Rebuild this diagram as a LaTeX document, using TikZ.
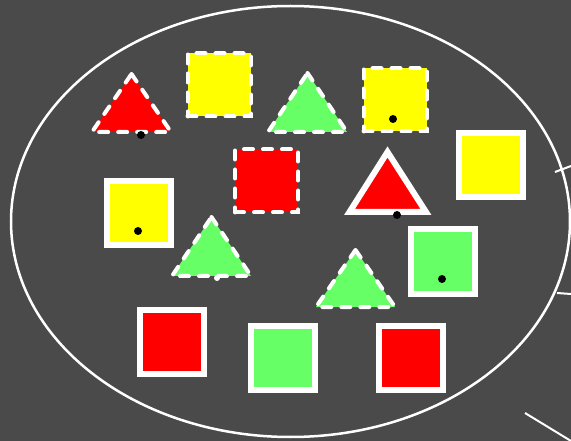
\documentclass[tikz,border=0pt]{standalone}
\usetikzlibrary{calc}
\definecolor{bg}{HTML}{4A4A4A}
\definecolor{cred}{HTML}{FF0000}
\definecolor{cyel}{HTML}{FFFF00}
\definecolor{cgrn}{HTML}{66FF66}
\tikzset{
  solidsq/.style={draw=white, line width=6pt, minimum size=64pt, inner sep=0pt, outer sep=0pt},
  dashsq/.style={draw=white, line width=4pt, minimum size=63pt, inner sep=0pt, outer sep=0pt, dash pattern=on 9pt off 10pt, line cap=round},
  dashtri/.style={draw=white, line width=4pt, dash pattern=on 9pt off 10pt, line cap=round, line join=miter},
  solidtri/.style={draw=white, line width=6pt, line join=miter},
  blackdot/.style={fill=black, circle, inner sep=0pt, minimum size=8pt},
  whitedot/.style={fill=white, circle, inner sep=0pt, minimum size=6pt},
  edge/.style={draw=white, line width=2pt},
}
\begin{document}
\begin{tikzpicture}[x=1pt,y=-1pt]
\fill[bg] (0,0) rectangle (571,441);
\useasboundingbox (0,0) rectangle (571,441);
% big ellipse
\draw[white, line width=2.5pt] (290.5,221.5) ellipse [x radius=279.5, y radius=215.5];
% outgoing lines
\coordinate (e1a) at (555,172); \coordinate (e1b) at (571,166);
\coordinate (e2a) at (557,293); \coordinate (e2b) at (571,294);
\coordinate (e3a) at (525,413); \coordinate (e3b) at (571,441);
\draw[edge] (e1a) -- (e1b);
\draw[edge] (e2a) -- (e2b);
\draw[edge] (e3a) -- (e3b);
% dashed squares
\node[dashsq, fill=cyel] (y1) at (219,85) {};
\node[dashsq, fill=cyel] (y2) at (395,100) {};
\node[dashsq, fill=cred] (r1) at (266.5,181) {};
% solid squares
\node[solidsq, fill=cyel] (y3) at (491,165) {};
\node[solidsq, fill=cyel] (y4) at (139,213) {};
\node[solidsq, fill=cgrn] (g1) at (443,261.5) {};
\node[solidsq, fill=cred] (r2) at (171.5,342) {};
\node[solidsq, fill=cgrn] (g2) at (283,358) {};
\node[solidsq, fill=cred] (r3) at (411,358) {};
% triangles
\path[dashtri, fill=cred] (131.5,74) -- (171,132) -- (92,132) -- cycle;
\path[dashtri, fill=cgrn] (307.5,73) -- (347,132) -- (268,132) -- cycle;
\path[solidtri, fill=cred] (387.5,152) -- (426,212) -- (349.5,212) -- cycle;
\path[dashtri, fill=cgrn] (211.5,217) -- (251,276) -- (172,276) -- cycle;
\path[dashtri, fill=cgrn] (355.5,250) -- (395,307) -- (316,307) -- cycle;
% dots
\node[blackdot] (d1) at (141,135) {};
\node[blackdot] (d2) at (393,119) {};
\node[blackdot] (d3) at (397,215) {};
\node[blackdot] (d4) at (138,231) {};
\node[blackdot] (d5) at (442,279) {};
\node[whitedot] (d6) at (217,278) {};
\end{tikzpicture}
\end{document}
